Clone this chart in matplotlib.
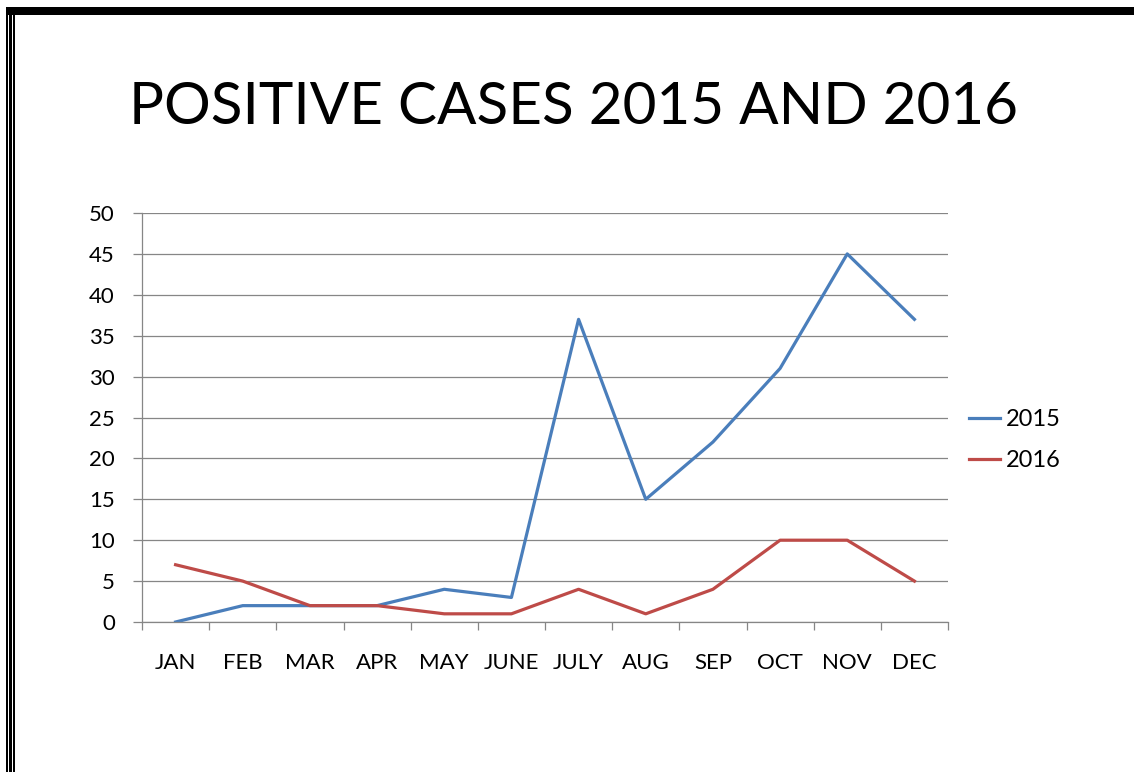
import numpy as np
import matplotlib.pyplot as plt
from matplotlib.patches import Rectangle

months = ['JAN', 'FEB', 'MAR', 'APR', 'MAY', 'JUNE', 'JULY', 'AUG', 'SEP', 'OCT', 'NOV', 'DEC']
cases_2015 = [0, 2, 2, 2, 4, 3, 37, 15, 22, 31, 45, 37]
cases_2016 = [7, 5, 2, 2, 1, 1, 4, 1, 4, 10, 10, 5]

plt.rcParams['font.family'] = ['Lato', 'DejaVu Sans']

fig = plt.figure(figsize=(11.34, 7.72), dpi=100)
W, H = 1134, 772

# page border: thick bar on top, triple line on the left
fig.patches.append(Rectangle((8 / W, 1 - 15 / H), 1 - 8 / W, 8 / H, transform=fig.transFigure,
                             facecolor='black', lw=0, zorder=0))
for x0, w in [(6, 2), (9, 3), (13, 2)]:
    fig.patches.append(Rectangle((x0 / W, 0), w / W, 1 - 7 / H, transform=fig.transFigure,
                                 facecolor='black', lw=0, zorder=0))

fig.text(573 / W, 1 - 108 / H, 'POSITIVE CASES 2015 AND 2016', ha='center', va='center',
         fontsize=42)

ax = fig.add_axes([142 / W, 150 / H, 806 / W, 409 / H])
x = np.arange(len(months))
ax.plot(x, cases_2015, color='#4A7EBB', lw=2.3, label='2015')
ax.plot(x, cases_2016, color='#BE4B48', lw=2.3, label='2016')

ax.set_xlim(-0.5, 11.5)
ax.set_ylim(0, 50)
ax.set_yticks(range(0, 51, 5))
ax.grid(axis='y', color='#868686', lw=0.9)
ax.set_axisbelow(True)
for s in ['top', 'right']:
    ax.spines[s].set_visible(False)
for s in ['left', 'bottom']:
    ax.spines[s].set_color('#868686')
    ax.spines[s].set_linewidth(0.9)

# category ticks sit between months, labels at the month centres
ax.set_xticks(np.arange(-0.5, 12, 1))
ax.set_xticklabels([])
ax.set_xticks(x, minor=True)
ax.set_xticklabels(months, minor=True)
ax.tick_params(axis='x', which='major', length=6, width=0.9, color='#868686', direction='out')
ax.tick_params(axis='x', which='minor', length=0, pad=22, labelsize=16)
ax.tick_params(axis='y', length=6.5, width=0.9, color='#868686', pad=13, labelsize=16)

ax.legend(loc='center left', bbox_to_anchor=(1.0, 0.445), frameon=False, fontsize=17,
          handlelength=1.3, handletextpad=0.25, labelspacing=0.85)

fig.savefig('out.png', dpi=100)
